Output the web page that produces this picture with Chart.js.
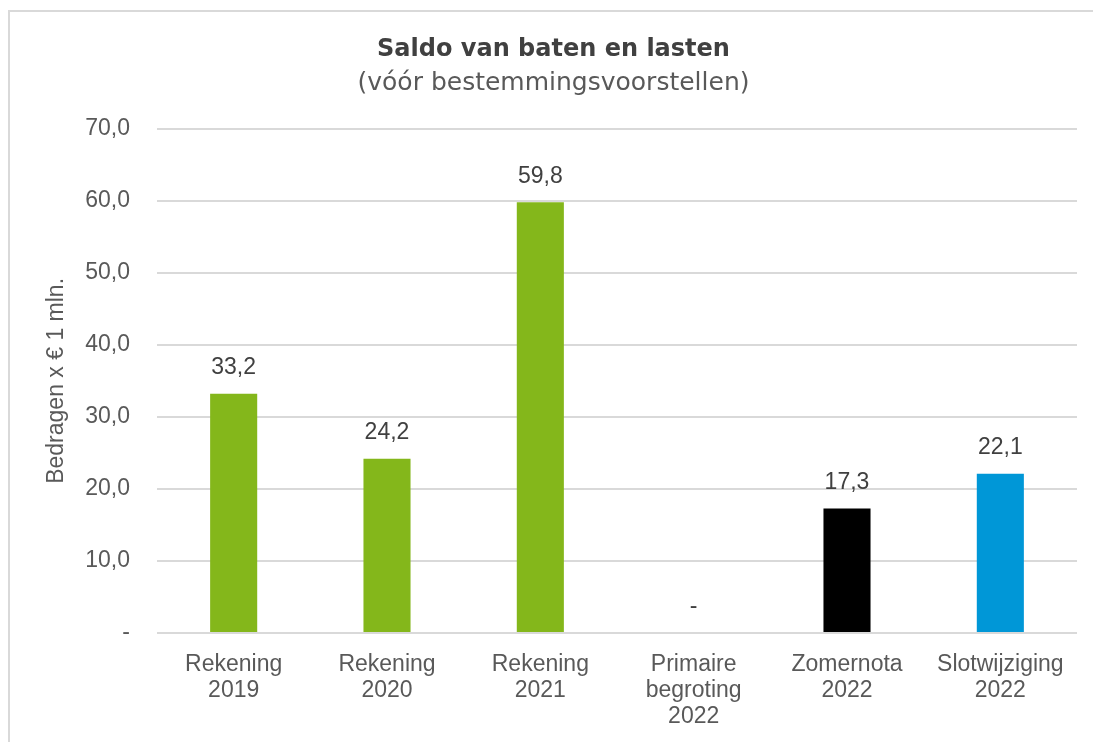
<!DOCTYPE html>
<html>
<head>
<meta charset="utf-8">
<script src="https://cdn.jsdelivr.net/npm/chart.js@4"></script>
<style>
  html, body { margin: 0; padding: 0; background: #fff; }
  #frame {
    position: absolute; left: 8px; top: 10px; right: 0; bottom: -10px;
    border-left: 2px solid #d9d9d9; border-top: 2px solid #d9d9d9;
  }
  #wrap { position: absolute; left: 0; top: 0; width: 1093px; height: 742px; }
</style>
</head>
<body>
<div id="frame"></div>
<div id="wrap"><canvas id="saldoChart"></canvas></div>
<script>
// Categories (multi-line labels) and values in € mln
const categories = [
    ['Rekening', '2019'],
    ['Rekening', '2020'],
    ['Rekening', '2021'],
    ['Primaire', 'begroting', '2022'],
    ['Zomernota', '2022'],
    ['Slotwijziging', '2022']
];
const saldo = [33.2, 24.2, 59.8, 0, 17.3, 22.1];
const barColors = ['#84b71b', '#84b71b', '#84b71b', '#84b71b', '#000000', '#0097d7'];
const yTicks = [0, 10, 20, 30, 40, 50, 60, 70];

const grey = '#595959';
const fmt = v => v === 0 ? '-' : v.toFixed(1).replace('.', ',');

// draws the value above each bar
const valueLabels = {
    id: 'valueLabels',
    afterDatasetsDraw(chart) {
        const ctx = chart.ctx;
        const meta = chart.getDatasetMeta(0);
        ctx.save();
        ctx.font = '23px "Liberation Sans", Arial, sans-serif';
        ctx.fillStyle = '#404040';
        ctx.textAlign = 'center';
        ctx.textBaseline = 'middle';
        meta.data.forEach((bar, i) => {
            ctx.fillText(fmt(saldo[i]), bar.x, bar.y - 26);
        });
        ctx.restore();
    }
};

const ctx = document.getElementById('saldoChart').getContext('2d');
const saldoChart = new Chart(ctx, {
    type: 'bar',
    data: {
        labels: categories,
        datasets: [{
            label: 'Saldo',
            data: saldo,
            backgroundColor: barColors,
            borderWidth: 0,
            categoryPercentage: 1,
            barPercentage: 0.307
        }]
    },
    options: {
        responsive: true,
        maintainAspectRatio: false,
        animation: false,
        layout: { padding: { left: 30, right: 16, top: 0, bottom: 0 } },
        scales: {
            x: {
                grid: { display: false },
                border: { display: false },
                ticks: {
                    color: grey,
                    padding: 10,
                    maxRotation: 0,
                    autoSkip: false,
                    font: { family: '"Liberation Sans", Arial, sans-serif', size: 23, lineHeight: 1.15 }
                },
                afterFit(scale) { scale.height = 109; }
            },
            y: {
                min: 0,
                max: 70,
                afterBuildTicks(scale) { scale.ticks = yTicks.map(v => ({ value: v })); },
                grid: { color: '#d9d9d9', lineWidth: 2, drawTicks: false },
                border: { display: false },
                ticks: {
                    color: grey,
                    padding: 27,
                    font: { family: '"Liberation Sans", Arial, sans-serif', size: 23 },
                    callback: v => fmt(v)
                },
                title: {
                    display: true,
                    text: 'Bedragen x € 1 mln.',
                    color: grey,
                    padding: { top: 13, bottom: 0 },
                    font: { family: '"Liberation Sans", Arial, sans-serif', size: 23 }
                },
                afterFit(scale) { scale.width = 127; }
            }
        },
        plugins: {
            legend: { display: false },
            tooltip: { enabled: false },
            title: {
                display: true,
                text: 'Saldo van baten en lasten',
                color: '#404040',
                padding: { top: 35, bottom: 0 },
                font: { family: '"DejaVu Sans", sans-serif', size: 24, weight: 'bold' }
            },
            subtitle: {
                display: true,
                text: '(vóór bestemmingsvoorstellen)',
                color: grey,
                padding: { top: 5, bottom: 30 },
                font: { family: '"DejaVu Sans", sans-serif', size: 25 }
            }
        }
    },
    plugins: [valueLabels]
});
</script>
</body>
</html>
